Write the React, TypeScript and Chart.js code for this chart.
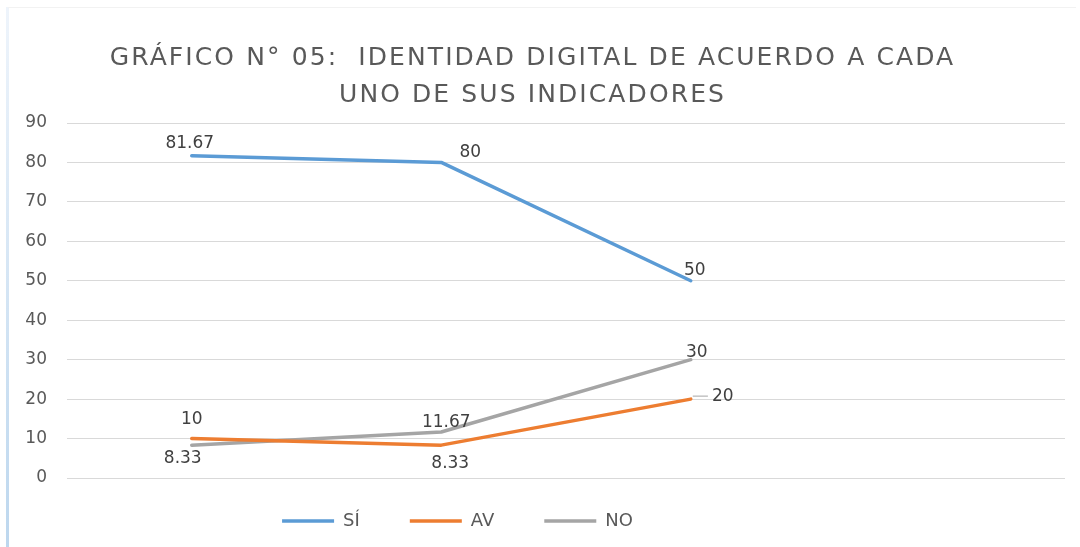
import React, { useEffect, useRef } from "react";
import { Chart, registerables } from "chart.js";

Chart.register(...registerables);

const categories = ["", "", "", ""];
const siValues = [81.67, 80, 50, null];
const avValues = [10, 8.33, 20, null];
const noValues = [8.33, 11.67, 30, null];
const seriesNames = ["SÍ", "AV", "NO"];
const titleLines = ["GRÁFICO N° 05:  IDENTIDAD DIGITAL DE ACUERDO A CADA", "UNO DE SUS INDICADORES"];
const yMin = 0;
const yMax = 90;
const yStep = 10;

// label offsets relative to each point (px), and whether a leader line is drawn
const labelOffsets = [
  [[-2, -12], [29, -10], [4, -10]],
  [[0, -19], [9, 18], [32, -3]],
  [[-9, 13], [5, -9], [6, -7]],
];
const leaderFlags = [
  [false, false, false],
  [false, false, true],
  [false, false, false],
];

const FONT = "'DejaVu Sans', sans-serif";

const labelPlugin = {
  id: "pointLabels",
  afterDatasetsDraw(chart: any) {
    const ctx = chart.ctx;
    ctx.save();
    ctx.font = `17px ${FONT}`;
    ctx.fillStyle = "#404040";
    ctx.textAlign = "center";
    ctx.textBaseline = "middle";
    chart.data.datasets.forEach((ds: any, di: number) => {
      const meta = chart.getDatasetMeta(di);
      meta.data.forEach((pt: any, i: number) => {
        const v = ds.data[i];
        if (v === null || v === undefined) return;
        const off = labelOffsets[di][i];
        const lx = pt.x + off[0];
        const ly = pt.y + off[1];
        const txt = String(v);
        if (leaderFlags[di][i]) {
          const w = ctx.measureText(txt).width;
          ctx.save();
          ctx.strokeStyle = "#A6A6A6";
          ctx.lineWidth = 1;
          ctx.beginPath();
          ctx.moveTo(pt.x + 2, ly);
          ctx.lineTo(lx - w / 2 - 4, ly);
          ctx.stroke();
          ctx.restore();
        }
        ctx.fillText(txt, lx, ly);
      });
    });
    ctx.restore();
  },
};

const layoutTweakPlugin = {
  id: "layoutTweak",
  afterLayout(chart: any) {
    const l = chart.legend;
    if (l) {
      l.left -= 75;
      l.right -= 75;
      l.top -= 16;
      l.bottom -= 16;
    }
    const t = chart.titleBlock;
    if (t && !t.__spaced) {
      t.__spaced = true;
      const orig = t.draw.bind(t);
      t.draw = function (...args: any[]) {
        const ctx = chart.ctx;
        ctx.save();
        try {
          (ctx as any).letterSpacing = "2.1px";
        } catch (e) {}
        orig(...args);
        ctx.restore();
      };
    }
  },
};

export default function App() {
  const ref = useRef<HTMLCanvasElement | null>(null);
  useEffect(() => {
    if (!ref.current) return;
    const mk = (label: string, data: any[], color: string) => ({
      label,
      data,
      borderColor: color,
      backgroundColor: color,
      borderWidth: 3.5,
      borderCapStyle: "round",
      borderJoinStyle: "round",
      pointRadius: 0,
      pointHoverRadius: 0,
      tension: 0,
      fill: false,
    });
    const chart = new Chart(ref.current, {
      type: "line",
      data: {
        labels: categories,
        datasets: [
          mk(seriesNames[0], siValues, "#5B9BD5"),
          mk(seriesNames[1], avValues, "#ED7D31"),
          mk(seriesNames[2], noValues, "#A5A5A5"),
        ] as any,
      },
      options: {
        animation: false,
        responsive: false,
        maintainAspectRatio: false,
        layout: { padding: { left: 0, right: 15, top: 0, bottom: 0 } },
        plugins: {
          title: {
            display: true,
            text: titleLines,
            color: "#595959",
            font: { family: FONT, size: 25, weight: "normal", lineHeight: 1.48 },
            padding: { top: 40, bottom: 9 },
          },
          legend: {
            display: true,
            position: "bottom",
            maxHeight: 69,
            labels: {
              usePointStyle: true,
              pointStyle: "line",
              pointStyleWidth: 52,
              padding: 50,
              color: "#595959",
              font: { family: FONT, size: 18 },
            },
          },
          tooltip: { enabled: false },
        },
        scales: {
          x: {
            offset: true,
            grid: { display: false },
            border: { display: false },
            ticks: { display: false },
            afterFit(scale: any) {
              scale.height = 0;
            },
          },
          y: {
            min: yMin,
            max: yMax,
            ticks: {
              stepSize: yStep,
              color: "#595959",
              font: { family: FONT, size: 17 },
              padding: 20,
            },
            grid: { color: "#D9D9D9", lineWidth: 1, drawTicks: false },
            border: { display: false },
            afterFit(scale: any) {
              scale.width = 67;
            },
          },
        },
      } as any,
      plugins: [labelPlugin, layoutTweakPlugin],
    });
    return () => chart.destroy();
  }, []);

  return (
    <div style={{ position: "absolute", left: 0, top: 0, width: 1080, height: 547, background: "#ffffff", overflow: "hidden" }}>
      <div style={{ position: "absolute", left: 6, top: 7, width: 3, height: 540, background: "linear-gradient(#eef4fb, #bdd7ee)" }} />
      <div style={{ position: "absolute", left: 8, top: 7, width: 1068, height: 1, background: "#f2f2f2" }} />
      <canvas ref={ref} width={1080} height={547} style={{ position: "absolute", left: 0, top: 0 }} />
    </div>
  );
}
